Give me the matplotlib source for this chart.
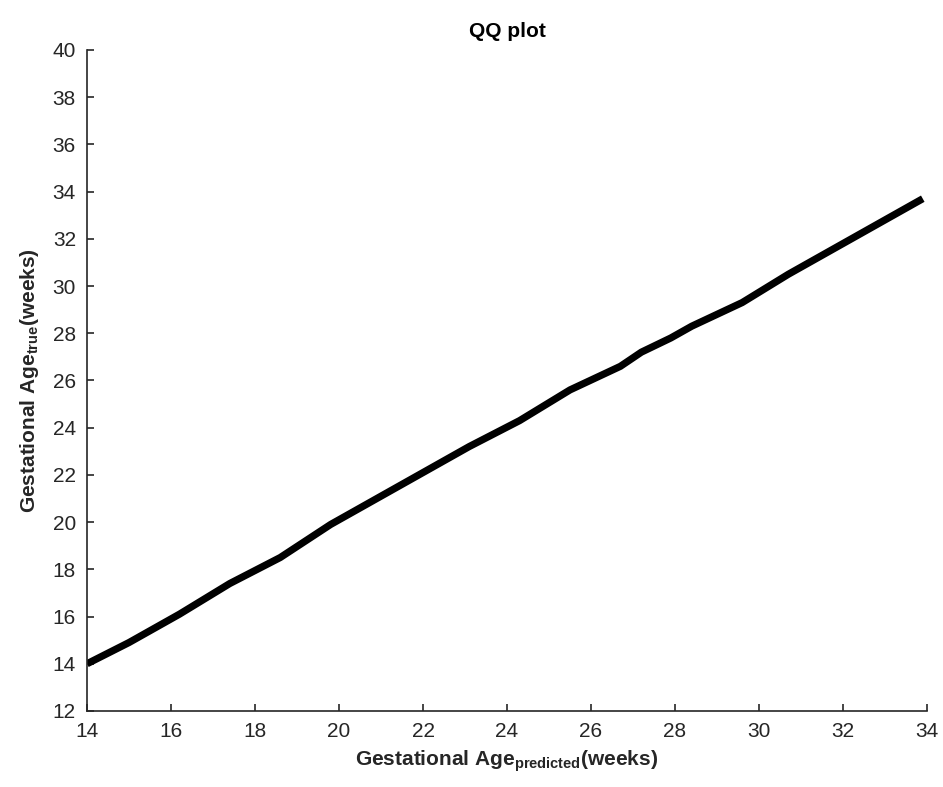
import matplotlib
matplotlib.use("Agg")
import matplotlib.pyplot as plt

plt.rcParams['font.family'] = ['Liberation Sans', 'DejaVu Sans']
plt.rcParams['mathtext.fontset'] = 'custom'
plt.rcParams['mathtext.rm'] = 'Liberation Sans'
plt.rcParams['mathtext.bf'] = 'Liberation Sans:bold'

# quantiles
predicted_q = [14.0, 15.0, 16.2, 17.4, 18.6, 19.8, 20.7, 21.9, 23.1, 24.3,
               25.5, 26.7, 27.2, 27.9, 28.4, 29.6, 30.7, 31.9, 33.1, 33.9]
true_q = [14.0, 14.9, 16.1, 17.4, 18.5, 19.9, 20.8, 22.0, 23.2, 24.3,
          25.6, 26.6, 27.2, 27.8, 28.3, 29.3, 30.5, 31.7, 32.9, 33.7]

x_ticks = list(range(14, 35, 2))
y_ticks = list(range(12, 41, 2))

axis_col = '#262626'

fig = plt.figure(figsize=(9.43, 7.87), dpi=100)
ax = fig.add_axes([0.0923, 0.0966, 0.8907, 0.8399])

ax.plot(predicted_q, true_q, color='black', lw=5.2, solid_capstyle='butt',
        solid_joinstyle='miter')

ax.set_xlim(14, 34)
ax.set_ylim(12, 40)
ax.set_xticks(x_ticks)
ax.set_yticks(y_ticks)

for s in ['top', 'right']:
    ax.spines[s].set_visible(False)
for s in ['left', 'bottom']:
    ax.spines[s].set_color(axis_col)
    ax.spines[s].set_linewidth(1.2)

ax.tick_params(direction='in', length=5, width=1.2, colors=axis_col,
               labelsize=15)
ax.tick_params(axis='x', pad=8)
ax.tick_params(axis='y', pad=8)

ax.set_xlabel('Gestational Age$_{\\mathbf{predicted}}$(weeks)', fontsize=15,
              fontweight='bold', color=axis_col, labelpad=5)
ax.set_ylabel('Gestational Age$_{\\mathbf{true}}$(weeks)', fontsize=15,
              fontweight='bold', color=axis_col, labelpad=8)
ax.set_title('QQ plot', fontsize=15, fontweight='bold', color='black', pad=9)

fig.savefig('out.png', dpi=100)
